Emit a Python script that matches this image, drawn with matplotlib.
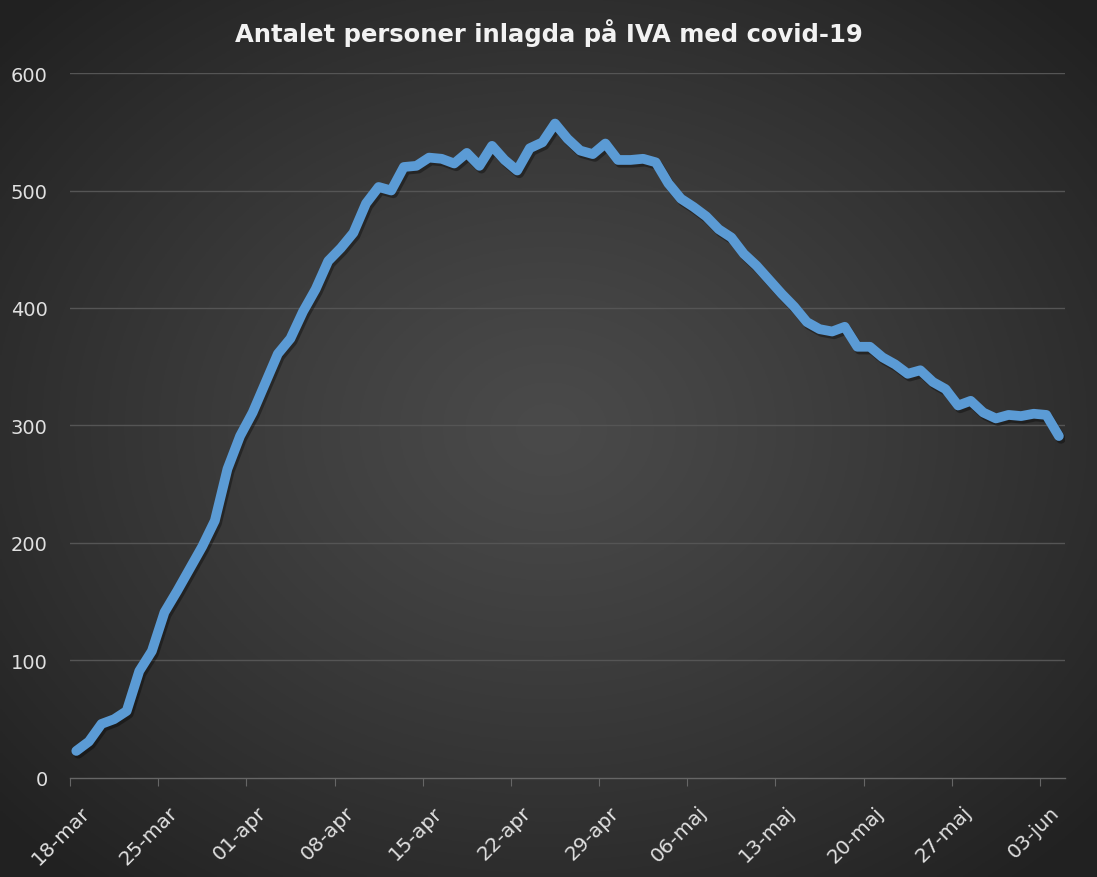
import numpy as np
import pandas as pd
import matplotlib
matplotlib.use("Agg")
import matplotlib.pyplot as plt
import matplotlib.patheffects as pe
import matplotlib.transforms as mtransforms

# IVA patients with covid-19, daily from 18 March to 4 June
start_date = "2020-03-18"
patients = [
    23, 31, 46, 50, 57, 91, 108, 141, 159, 178,
    197, 219, 263, 291, 311, 336, 361, 374, 397, 416,
    440, 451, 464, 489, 503, 500, 520, 521, 528, 527,
    523, 532, 521, 538, 526, 517, 536, 541, 557, 544,
    534, 531, 540, 526, 526, 527, 524, 506, 493, 486,
    478, 467, 460, 446, 436, 424, 412, 401, 388, 382,
    380, 384, 367, 367, 358, 352, 344, 347, 337, 331,
    317, 321, 311, 306, 309, 308, 310, 309, 291,
]
y_ticks = [0, 100, 200, 300, 400, 500, 600]
title = "Antalet personer inlagda på IVA med covid-19"

dates = pd.date_range(start_date, periods=len(patients), freq="D")
day_idx = np.arange(len(patients))
week_ticks = np.arange(0, len(patients), 7)
week_labels = [f"{d.day:02d}-" + {3: "mar", 4: "apr", 5: "maj", 6: "jun"}[d.month]
               for d in dates[week_ticks]]

fig = plt.figure(figsize=(10.97, 8.78), dpi=100)

# radial gradient background
bg = fig.add_axes([0, 0, 1, 1], zorder=-10)
gx, gy = np.meshgrid(np.linspace(-1, 1, 400), np.linspace(-1, 1, 320))
r = np.sqrt(gx ** 2 + (gy + 0.02) ** 2)
shade = 0.29 - 0.16 * np.clip(r / 1.35, 0, 1) ** 1.2
bg.imshow(np.dstack([shade, shade, shade]), extent=[0, 1, 0, 1], aspect="auto")
bg.axis("off")

ax = fig.add_axes([0.0638, 0.1128, 0.9072, 0.8029])
ax.patch.set_alpha(0)

ax.plot(day_idx, patients, color="#5B9BD5", lw=7, solid_joinstyle="round",
        solid_capstyle="round", zorder=3,
        path_effects=[pe.SimpleLineShadow(offset=(1.5, -2), shadow_color="black", alpha=0.35),
                      pe.Normal()])

ax.set_ylim(0, 600)
ax.set_xlim(-0.5, len(patients) - 0.5)
ax.set_yticks(y_ticks)
ax.set_yticklabels([str(v) for v in y_ticks], color="#e0e0e0", fontsize=14)
ax.set_xticks(week_ticks - 0.5)
ax.set_xticklabels(week_labels, rotation=45, ha="right", va="top",
                   rotation_mode="anchor", color="#e0e0e0", fontsize=14.5)
ax.tick_params(axis="y", length=0, pad=16)
ax.tick_params(axis="x", length=6, color="#666666", pad=10, direction="out")

shift = mtransforms.ScaledTranslation(10 / 100, -2 / 100, fig.dpi_scale_trans)
for lbl in ax.get_xticklabels():
    lbl.set_transform(lbl.get_transform() + shift)

for v in y_ticks[1:]:
    ax.axhline(v, color="#555555", lw=1, zorder=1)
for s in ["top", "right", "left"]:
    ax.spines[s].set_visible(False)
ax.spines["bottom"].set_color("#666666")
ax.spines["bottom"].set_linewidth(1)

fig.text(0.5, 0.962, title, ha="center", va="center", color="#f2f2f2",
         fontsize=17.5, fontweight="bold")

fig.savefig("out.png", dpi=100)
